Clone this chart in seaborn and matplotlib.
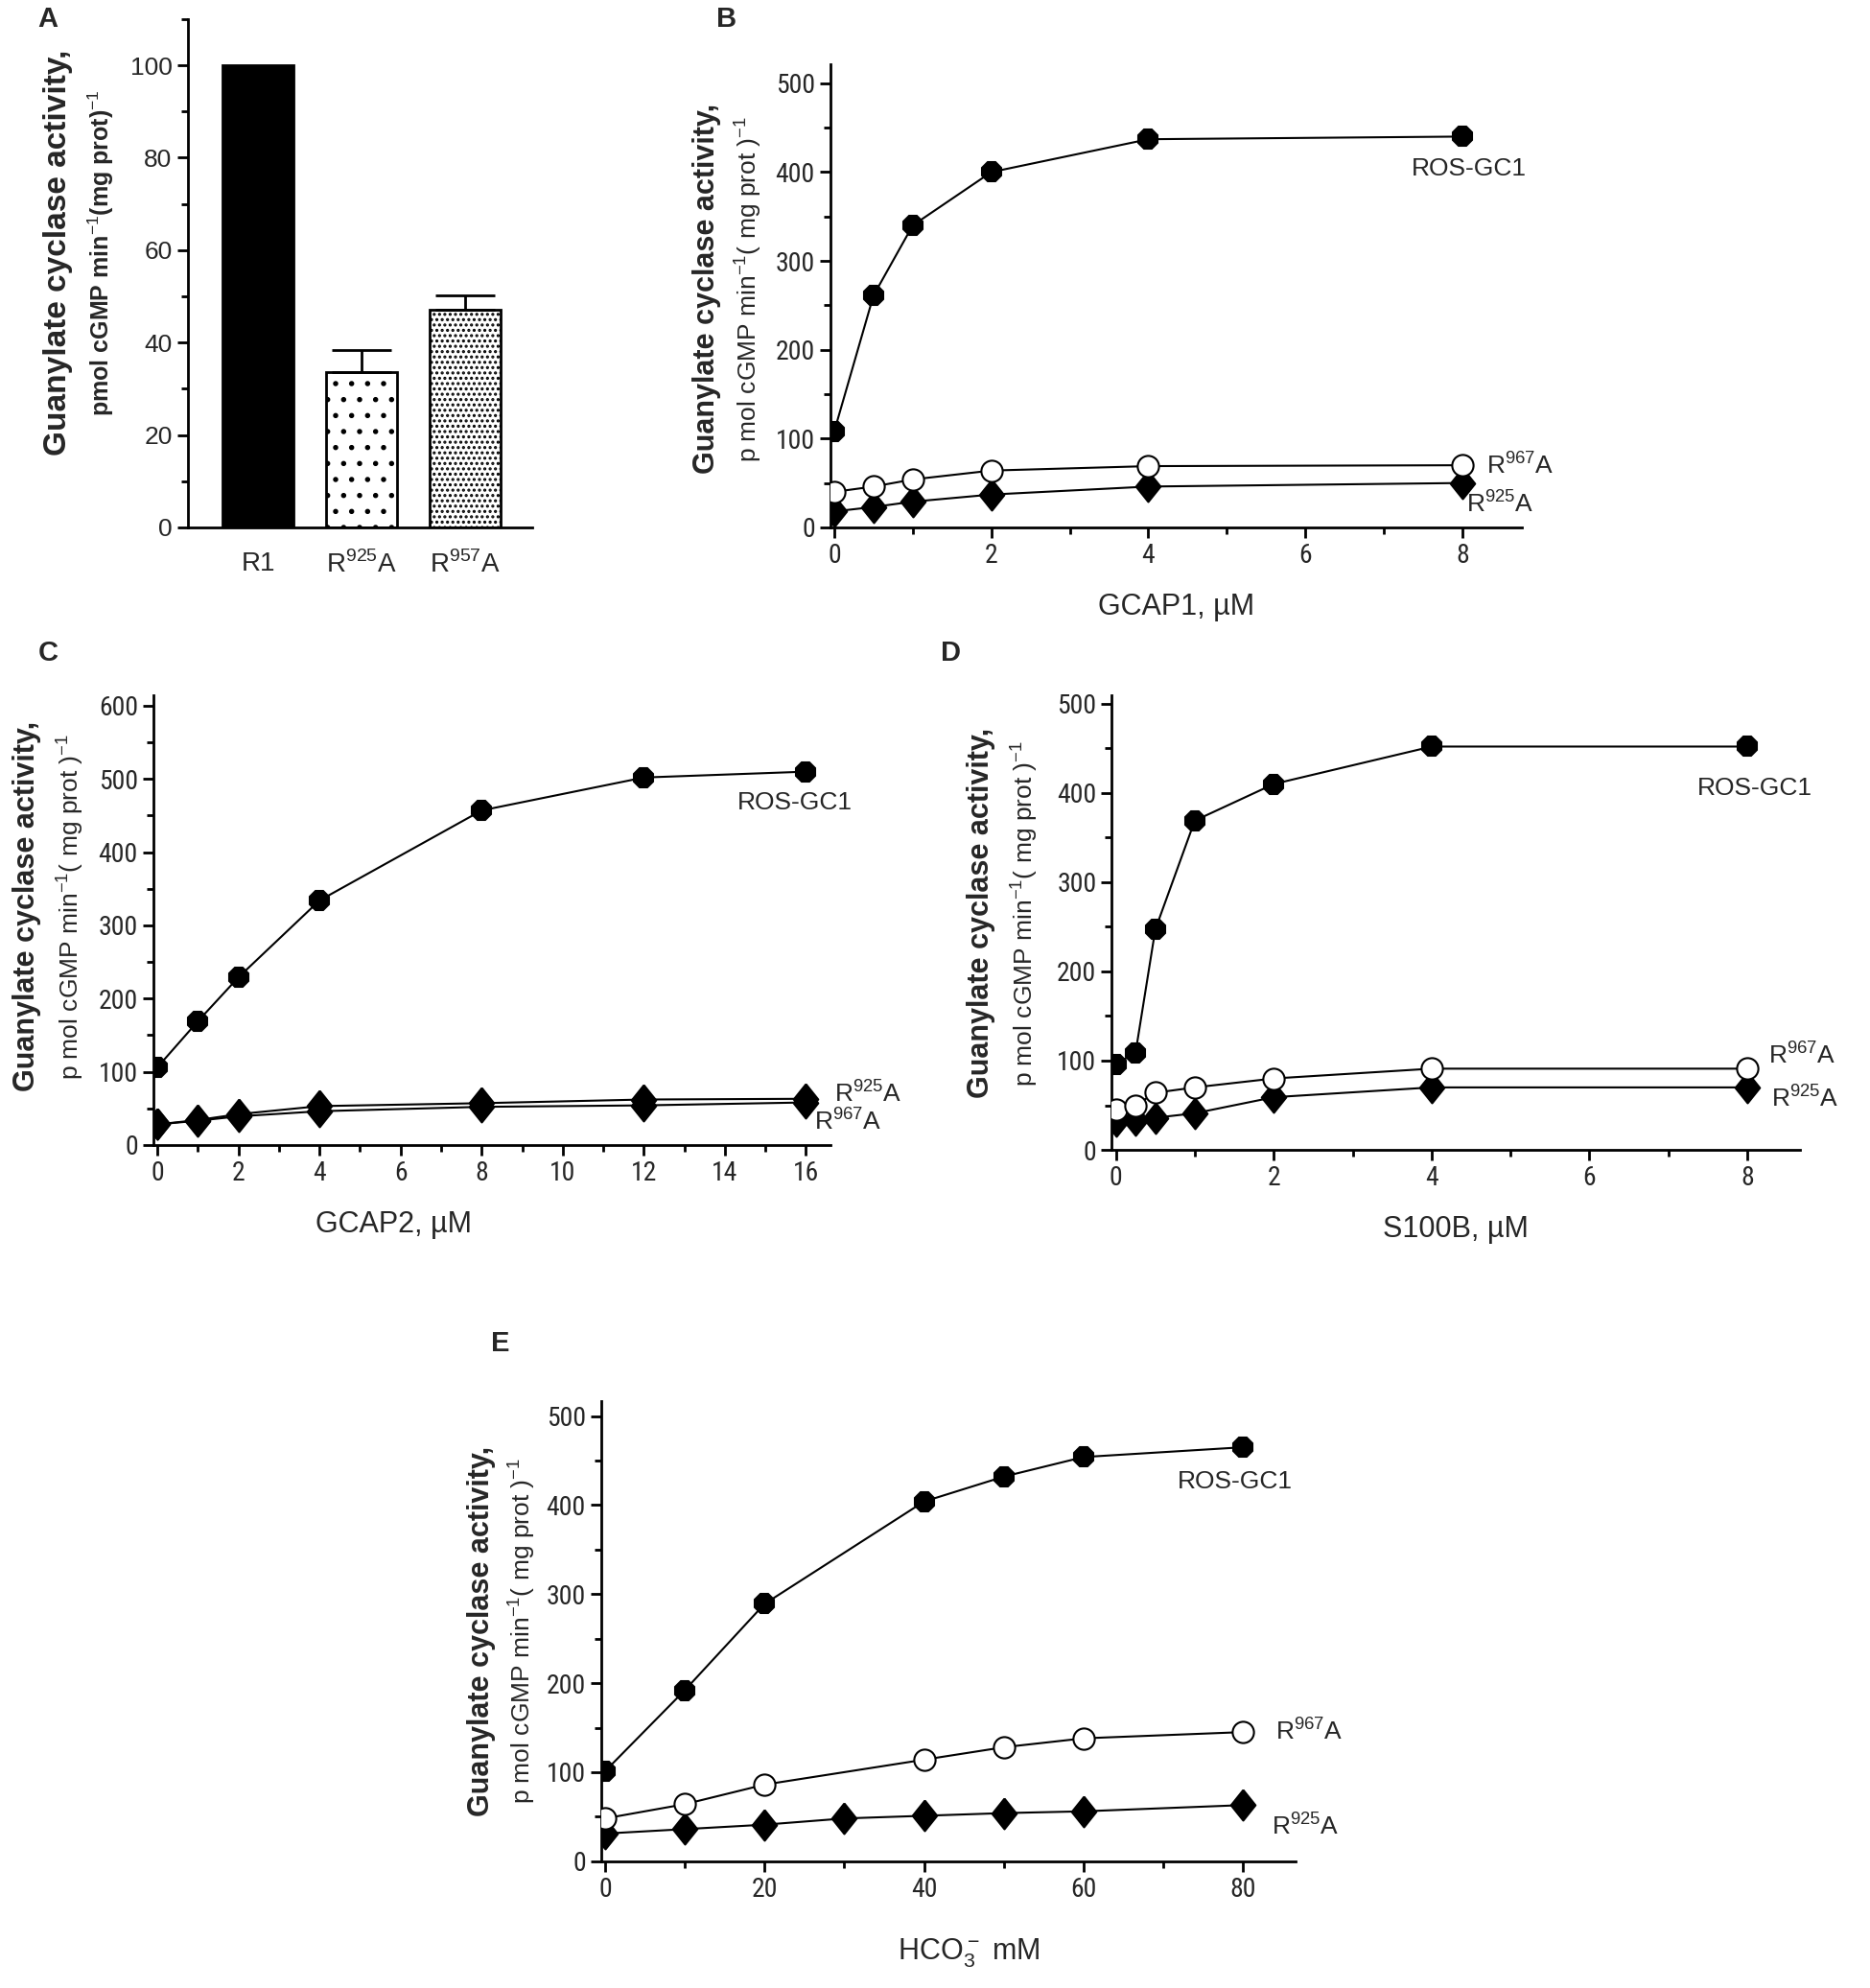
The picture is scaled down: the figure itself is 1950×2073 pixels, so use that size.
import matplotlib
matplotlib.use('Agg')
import matplotlib.pyplot as plt
from matplotlib import font_manager as fm
from matplotlib.ticker import MultipleLocator
import seaborn as sns

# panel A - bars
bar_labels = ['R1', 'R$^{925}$A', 'R$^{957}$A']
bar_values = [100, 33.6, 47]
bar_err_up = [0, 4.8, 3.2]

# panel B - GCAP1
gcap1_x = [0, 0.5, 1, 2, 4, 8]
gcap1_wt = [108, 261, 340, 400, 437, 440]
gcap1_r967 = [40, 46, 54, 64, 69, 70]
gcap1_r925 = [18, 23, 29, 37, 46, 50]

# panel C - GCAP2
gcap2_x = [0, 1, 2, 4, 8, 12, 16]
gcap2_wt = [106, 169, 229, 334, 457, 502, 510]
gcap2_r925 = [28, 34, 42, 53, 57, 62, 63]
gcap2_r967 = [28, 33, 39, 46, 52, 54, 58]

# panel D - S100B
s100b_x = [0, 0.25, 0.5, 1, 2, 4, 8]
s100b_wt = [96, 109, 247, 369, 410, 452, 452]
s100b_r967 = [45, 50, 64, 70, 80, 91, 91]
s100b_r925 = [32, 33, 36, 41, 59, 70, 70]

# panel E - bicarbonate
hco3_x = [0, 10, 20, 40, 50, 60, 80]
hco3_wt = [101, 192, 289, 404, 432, 454, 465]
hco3_r967 = [48, 64, 86, 114, 128, 138, 145]
hco3_x2 = [0, 10, 20, 30, 40, 50, 60, 80]
hco3_r925 = [31, 36, 41, 48, 51, 54, 56, 63]

sns.set_style('ticks')
plt.rcParams['font.family'] = ['Liberation Sans', 'DejaVu Sans']
plt.rcParams['mathtext.fontset'] = 'custom'
plt.rcParams['mathtext.rm'] = 'Liberation Sans'
plt.rcParams['mathtext.bf'] = 'Liberation Sans:bold'
plt.rcParams['hatch.linewidth'] = 1.5
plt.rcParams['hatch.color'] = 'black'

# a narrow face for the tick numbers, if one is installed
tick_font = dict(family=['Liberation Sans', 'DejaVu Sans'], stretch='normal', weight='bold')
for fam in ['Liberation Sans Narrow', 'Roboto Condensed', 'Open Sans Condensed']:
    try:
        fm.findfont(fm.FontProperties(family=fam), fallback_to_default=False)
        tick_font = dict(family=[fam, 'Liberation Sans'], stretch='normal', weight='normal')
        break
    except ValueError:
        pass
else:
    path = fm.findfont(fm.FontProperties(family='DejaVu Sans', stretch='condensed', weight='bold'))
    if 'Condensed' in path:
        tick_font = dict(family=['DejaVu Sans'], stretch='condensed', weight='bold')

fig = plt.figure(figsize=(19.5, 20.73), dpi=100)

line1 = 'Guanylate cyclase activity,'
line2 = 'p mol cGMP min$^{-1}$( mg prot )$^{-1}$'
line2_a = 'pmol cGMP min$^{-1}$(mg prot)$^{-1}$'

# tall diamond like the original symbol
tall_diamond = [(0, 1), (0.8, 0), (0, -1), (-0.8, 0), (0, 1)]


def style_axis(ax, lw=2.0, narrow=True):
    sns.despine(ax=ax)
    for s in ['left', 'bottom']:
        ax.spines[s].set_linewidth(lw)
        ax.spines[s].set_color('black')
    ax.tick_params(which='major', direction='out', length=8, width=lw, color='black',
                   labelsize=19)
    ax.tick_params(which='minor', direction='out', length=5, width=lw, color='black')
    for t in ax.get_xticklabels() + ax.get_yticklabels():
        if narrow:
            t.set_fontfamily(tick_font['family'])
            t.set_fontstretch(tick_font['stretch'])
            t.set_fontweight(tick_font['weight'])
            t.set_fontsize(20)


def ylabels(ax, off1, off2, yc, size1=22, size2=19, bold2=False, text2=line2):
    ax.annotate(line1, xy=(0, yc), xycoords='axes fraction', xytext=(-off1, 0),
                textcoords='offset points', rotation=90, ha='center', va='center',
                fontsize=size1, fontweight='bold')
    ax.annotate(text2, xy=(0, yc), xycoords='axes fraction', xytext=(-off2, 0),
                textcoords='offset points', rotation=90, ha='center', va='center',
                fontsize=size2, fontweight='bold' if bold2 else 'normal')


def curves(ax, x, wt, r967, r925, x925=None, fill967='white'):
    if x925 is None:
        x925 = x
    kw = dict(ax=ax, color='black', linewidth=1.5, markeredgecolor='black',
              markeredgewidth=1.5, legend=False)
    sns.lineplot(x=x925, y=r925, marker=tall_diamond, markersize=23, markerfacecolor='black',
                 zorder=3, **kw)
    if fill967 == 'white':
        sns.lineplot(x=x, y=r967, marker='o', markersize=16, markerfacecolor='white', zorder=4, **kw)
    else:
        sns.lineplot(x=x, y=r967, marker=tall_diamond, markersize=23, markerfacecolor='black',
                     zorder=4, **kw)
    sns.lineplot(x=x, y=wt, marker='8', markersize=15, markerfacecolor='black', zorder=5, **kw)


def labels(ax, items, size=19):
    for xx, yy, s in items:
        ax.text(xx, yy, s, fontsize=size, va='center')


# ---------- A ----------
axA = fig.add_axes([0.1003, 0.7347, 0.1844, 0.2557])
sns.barplot(x=bar_labels, y=bar_values, hue=bar_labels, palette=['black', 'white', 'white'],
            edgecolor='black', linewidth=2, width=0.68, legend=False, ax=axA)
axA.patches[1].set_hatch('.')
axA.patches[2].set_hatch('...')
axA.errorbar([1, 2], bar_values[1:], yerr=[[0, 0], bar_err_up[1:]], fmt='none',
             ecolor='black', elinewidth=2, capsize=22, capthick=2)
axA.set_ylim(0, 110)
axA.set_xlim(-0.68, 2.65)
axA.yaxis.set_major_locator(MultipleLocator(20))
axA.yaxis.set_minor_locator(MultipleLocator(10))
style_axis(axA, narrow=False)
axA.tick_params(axis='x', length=0, labelsize=20, pad=18)
axA.tick_params(axis='y', labelsize=19)
ylabels(axA, 97, 65, 0.54, size1=24, size2=18, bold2=True, text2=line2_a)

# ---------- B ----------
axB = fig.add_axes([0.444, 0.7347, 0.3696, 0.2328])
curves(axB, gcap1_x, gcap1_wt, gcap1_r967, gcap1_r925)
axB.set_xlim(-0.05, 8.75)
axB.set_ylim(0, 521)
axB.xaxis.set_major_locator(MultipleLocator(2))
axB.xaxis.set_minor_locator(MultipleLocator(1))
axB.yaxis.set_major_locator(MultipleLocator(100))
axB.yaxis.set_minor_locator(MultipleLocator(50))
style_axis(axB)
axB.set_xlabel('GCAP1, µM', fontsize=22, labelpad=18)
labels(axB, [(7.35, 404, 'ROS-GC1'), (8.3, 70, 'R$^{967}$A'), (8.05, 27, 'R$^{925}$A')])
ylabels(axB, 93, 62, 0.515)

# ---------- C ----------
axC = fig.add_axes([0.082, 0.4241, 0.362, 0.2264])
curves(axC, gcap2_x, gcap2_wt, gcap2_r967, gcap2_r925, fill967='black')
axC.set_xlim(-0.1, 16.6)
axC.set_ylim(0, 615)
axC.xaxis.set_major_locator(MultipleLocator(2))
axC.xaxis.set_minor_locator(MultipleLocator(1))
axC.yaxis.set_major_locator(MultipleLocator(100))
axC.yaxis.set_minor_locator(MultipleLocator(50))
style_axis(axC)
axC.set_xlabel('GCAP2, µM', fontsize=22, labelpad=18)
axC.xaxis.label.set_x(0.355)
labels(axC, [(14.3, 468, 'ROS-GC1'), (16.7, 71, 'R$^{925}$A'), (16.2, 33, 'R$^{967}$A')])
ylabels(axC, 95, 63, 0.53)

# ---------- D ----------
axD = fig.add_axes([0.5946, 0.4216, 0.3681, 0.2289])
curves(axD, s100b_x, s100b_wt, s100b_r967, s100b_r925)
axD.set_xlim(-0.05, 8.67)
axD.set_ylim(0, 510)
axD.xaxis.set_major_locator(MultipleLocator(2))
axD.xaxis.set_minor_locator(MultipleLocator(1))
axD.yaxis.set_major_locator(MultipleLocator(100))
axD.yaxis.set_minor_locator(MultipleLocator(50))
style_axis(axD)
axD.set_xlabel('S100B, µM', fontsize=22, labelpad=18)
labels(axD, [(7.36, 405, 'ROS-GC1'), (8.27, 107, 'R$^{967}$A'), (8.3, 58, 'R$^{925}$A')])
ylabels(axD, 98, 66, 0.52)

# ---------- E ----------
axE = fig.add_axes([0.3214, 0.0638, 0.3715, 0.2315])
curves(axE, hco3_x, hco3_wt, hco3_r967, hco3_r925, x925=hco3_x2)
axE.set_xlim(-0.5, 86.6)
axE.set_ylim(0, 517)
axE.xaxis.set_major_locator(MultipleLocator(20))
axE.xaxis.set_minor_locator(MultipleLocator(10))
axE.yaxis.set_major_locator(MultipleLocator(100))
axE.yaxis.set_minor_locator(MultipleLocator(50))
style_axis(axE)
axE.set_xlabel('HCO$_3^-$ mM', fontsize=22, labelpad=26)
axE.xaxis.label.set_x(0.53)
labels(axE, [(71.8, 426, 'ROS-GC1'), (84, 147, 'R$^{967}$A'), (83.6, 40, 'R$^{925}$A')])
ylabels(axE, 90, 60, 0.50)

# panel letters
for lab, (px, py) in {'A': (38, 15), 'B': (573, 15), 'C': (38, 515),
                      'D': (750, 515), 'E': (395, 1060)}.items():
    fig.text(px / 1475, 1 - py / 1568, lab, fontsize=21, fontweight='bold',
             ha='center', va='center')

fig.savefig('out.png', dpi=100)
